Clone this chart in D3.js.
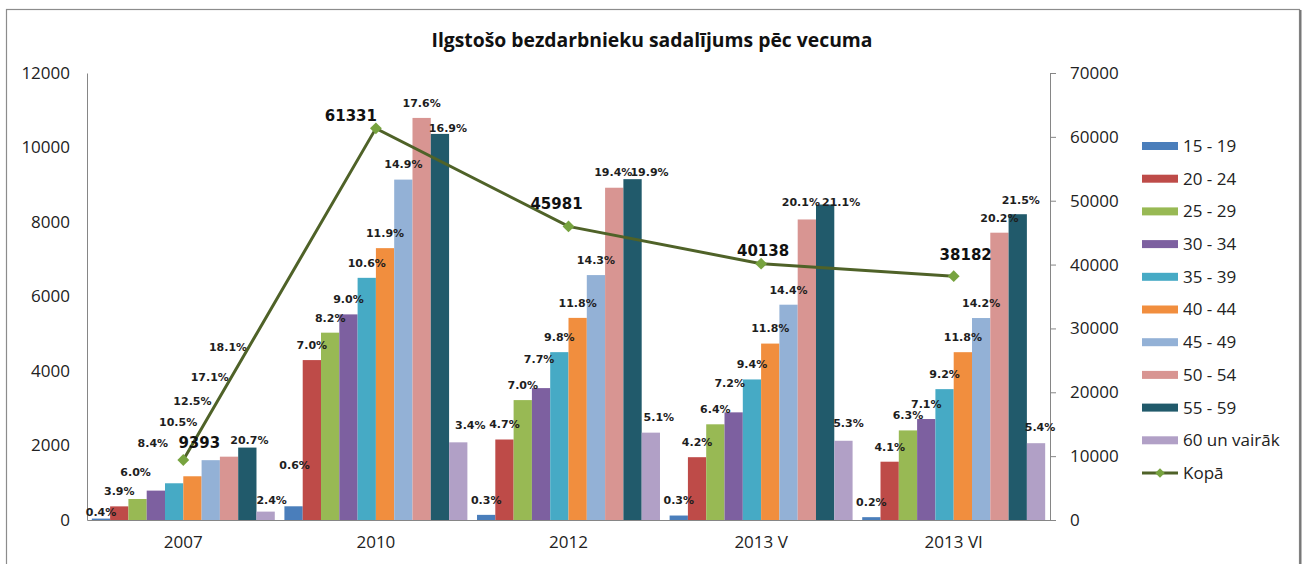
<!DOCTYPE html>
<html>
<head>
<meta charset="utf-8">
<script src="https://cdn.jsdelivr.net/npm/d3@7"></script>
<style>
  body { margin: 0; background: #fff; }
  svg { display: block; }
</style>
</head>
<body>
<svg></svg>
<script>
var width = 1304;
var height = 564;

var periods = ["2007", "2010", "2012", "2013 V", "2013 VI"];
var ageGroups = ["15 - 19", "20 - 24", "25 - 29", "30 - 34", "35 - 39",
                 "40 - 44", "45 - 49", "50 - 54", "55 - 59", "60 un vairāk"];

// bar heights (persons), one array per period
var counts2007  = [38, 366, 564, 789, 986, 1174, 1606, 1700, 1944, 225];
var counts2010  = [368, 4293, 5029, 5520, 6501, 7298, 9138, 10794, 10365, 2085];
var counts2012  = [138, 2161, 3219, 3541, 4506, 5426, 6575, 8920, 9150, 2345];
var counts2013V = [120, 1686, 2569, 2890, 3773, 4736, 5780, 8068, 8469, 2127];
var counts2013VI = [76, 1565, 2405, 2711, 3513, 4505, 5422, 7713, 8209, 2062];

// percentage labels
var pct2007  = [0.4, 3.9, 6.0, 8.4, 10.5, 12.5, 17.1, 18.1, 20.7, 2.4];
var pct2010  = [0.6, 7.0, 8.2, 9.0, 10.6, 11.9, 14.9, 17.6, 16.9, 3.4];
var pct2012  = [0.3, 4.7, 7.0, 7.7, 9.8, 11.8, 14.3, 19.4, 19.9, 5.1];
var pct2013V = [0.3, 4.2, 6.4, 7.2, 9.4, 11.8, 14.4, 20.1, 21.1, 5.3];
var pct2013VI = [0.2, 4.1, 6.3, 7.1, 9.2, 11.8, 14.2, 20.2, 21.5, 5.4];

var totals = [9393, 61331, 45981, 40138, 38182];

var leftTicks = [0, 2000, 4000, 6000, 8000, 10000, 12000];
var rightTicks = [0, 10000, 20000, 30000, 40000, 50000, 60000, 70000];

var colors = ["#4a7ebb", "#be4b48", "#98b954", "#7d60a0", "#46aac5",
              "#f18e3e", "#93b1d6", "#d89592", "#215a6b", "#b1a0c6"];

var allCounts = [counts2007, counts2010, counts2012, counts2013V, counts2013VI];
var allPct = [pct2007, pct2010, pct2012, pct2013V, pct2013VI];

// label shifts (dx, dy from bar top centre), as the labels were moved by hand
var labelShift = {
  "0": [[0,-6],[0,-15],[-2,-27],[-3,-47],[4,-61],[0,-75],[-1,-83],[-1,-110],[2,-7],[6,-11]],
  "1": {0:[1,-41], 8:[8,-6], 9:[12,-17]},
  "2": {3:[-2,-29], 7:[-1,-16], 8:[17,-7], 9:[8,-15]},
  "3": {3:[-4,-29], 7:[-6,-17], 8:[16,-2], 9:[5,-18]},
  "4": {8:[3,-14], 9:[4,-16]}
};
var totalShift = [[16,-17],[-25,-13],[-12,-23],[2,-13],[12,-21]];

var plot = {left: 87, right: 1050, top: 73, bottom: 520};

var svg = d3.select("svg")
    .attr("width", width)
    .attr("height", height);

// frame
svg.append("rect")
    .attr("x", 6.5).attr("y", 9.5)
    .attr("width", 1293).attr("height", 560)
    .attr("fill", "#fff")
    .attr("stroke", "#8c8c8c")
    .attr("stroke-width", 1.2);
svg.append("line")
    .attr("x1", 1300.5).attr("x2", 1300.5).attr("y1", 10).attr("y2", 564)
    .attr("stroke", "#777").attr("stroke-width", 2);

svg.append("text")
    .attr("x", 652)
    .attr("y", 47)
    .attr("text-anchor", "middle")
    .style("font-family", "'Open Sans', sans-serif")
    .style("font-weight", "bold")
    .style("font-size", "19px")
    .attr("textLength", 441)
    .attr("lengthAdjust", "spacingAndGlyphs")
    .attr("fill", "#111")
    .text("Ilgstošo bezdarbnieku sadalījums pēc vecuma");

var x0 = d3.scaleBand()
    .domain(periods)
    .range([plot.left, plot.right])
    .paddingInner(0.05)
    .paddingOuter(0.025);

var x1 = d3.scaleBand()
    .domain(d3.range(ageGroups.length))
    .range([0, x0.bandwidth()]);

var yL = d3.scaleLinear().domain([0, 12000]).range([plot.bottom, plot.top]);
var yR = d3.scaleLinear().domain([0, 70000]).range([plot.bottom, plot.top]);

var axisFont = "'Open Sans', sans-serif";

// left axis
var gL = svg.append("g")
    .attr("transform", `translate(${plot.left},0)`)
    .call(d3.axisLeft(yL).tickValues(leftTicks).tickSize(0).tickPadding(17).tickFormat(d3.format("d")));
gL.select(".domain").attr("stroke", "#868686");
gL.selectAll("text").style("font-family", axisFont).style("font-size", "17px").attr("fill", "#222");

// right axis
var gR = svg.append("g")
    .attr("transform", `translate(${plot.right},0)`)
    .call(d3.axisRight(yR).tickValues(rightTicks).tickSize(6).tickSizeOuter(6).tickPadding(14).tickFormat(d3.format("d")));
gR.select(".domain").attr("stroke", "#868686");
gR.selectAll(".tick line").attr("stroke", "#868686");
gR.selectAll("text").style("font-family", axisFont).style("font-size", "17px").attr("fill", "#222");

// bottom axis
var gB = svg.append("g")
    .attr("transform", `translate(0,${plot.bottom})`)
    .call(d3.axisBottom(x0).tickSize(0).tickSizeOuter(0).tickPadding(16));
gB.select(".domain").attr("stroke", "#868686");
gB.selectAll("text").style("font-family", axisFont).style("font-size", "17px").attr("fill", "#222");

// bars
var groups = svg.append("g").selectAll("g")
    .data(periods)
    .join("g")
      .attr("transform", d => `translate(${x0(d)},0)`);

groups.selectAll("rect")
    .data((d, gi) => allCounts[gi].map((v, i) => ({v: v, i: i})))
    .join("rect")
      .attr("x", d => x1(d.i))
      .attr("width", x1.bandwidth())
      .attr("y", d => yL(d.v))
      .attr("height", d => plot.bottom - yL(d.v))
      .attr("fill", d => colors[d.i]);

// percentage labels
groups.selectAll("text.pct")
    .data((d, gi) => allPct[gi].map((p, i) => {
        var s = labelShift[gi] && labelShift[gi][i] ? labelShift[gi][i] : [0, -15];
        return {p: p, i: i, v: allCounts[gi][i], dx: s[0], dy: s[1]};
    }))
    .join("text")
      .classed("pct", true)
      .attr("x", d => x1(d.i) + x1.bandwidth() / 2 + d.dx)
      .attr("y", d => yL(d.v) + d.dy)
      .attr("dy", "0.35em")
      .attr("text-anchor", "middle")
      .style("font-family", "'DejaVu Sans', Verdana, sans-serif")
      .style("font-weight", "bold")
      .style("font-size", "11px")
      .attr("fill", "#1e1e1e")
      .text(d => d.p.toFixed(1) + "%");

// total line
var pts = periods.map((p, i) => [x0(p) + x0.bandwidth() / 2, yR(totals[i])]);

svg.append("path")
    .attr("d", d3.line()(pts))
    .attr("fill", "none")
    .attr("stroke", "#4f6228")
    .attr("stroke-width", 3);

var marker = d3.symbol().type(d3.symbolSquare).size(70);

svg.append("g").selectAll("path")
    .data(pts)
    .join("path")
      .attr("transform", d => `translate(${d[0]},${d[1]}) rotate(45)`)
      .attr("d", marker)
      .attr("fill", "#77a33f");

svg.append("g").selectAll("text")
    .data(pts)
    .join("text")
      .attr("x", (d, i) => d[0] + totalShift[i][0])
      .attr("y", (d, i) => d[1] + totalShift[i][1])
      .attr("dy", "0.35em")
      .attr("text-anchor", "middle")
      .style("font-family", "'DejaVu Sans', Verdana, sans-serif")
      .style("font-weight", "bold")
      .style("font-size", "15px")
      .attr("fill", "#111")
      .text((d, i) => totals[i]);

// legend
var legend = svg.append("g").attr("transform", "translate(1142,146)");
var step = 32.7;

legend.selectAll("rect")
    .data(ageGroups)
    .join("rect")
      .attr("x", 0)
      .attr("y", (d, i) => i * step - 4)
      .attr("width", 36)
      .attr("height", 8)
      .attr("fill", (d, i) => colors[i]);

var legendLabels = ageGroups.concat(["Kopā"]);
legend.selectAll("text")
    .data(legendLabels)
    .join("text")
      .attr("x", 41)
      .attr("y", (d, i) => i * step)
      .attr("dy", "0.35em")
      .style("font-family", axisFont)
      .style("font-size", "17px")
      .attr("fill", "#222")
      .text(d => d);

var ky = ageGroups.length * step;
legend.append("line")
    .attr("x1", 0).attr("x2", 36)
    .attr("y1", ky).attr("y2", ky)
    .attr("stroke", "#4f6228")
    .attr("stroke-width", 3);
legend.append("path")
    .attr("transform", `translate(18,${ky}) rotate(45)`)
    .attr("d", d3.symbol().type(d3.symbolSquare).size(45))
    .attr("fill", "#77a33f");
</script>
</body>
</html>
